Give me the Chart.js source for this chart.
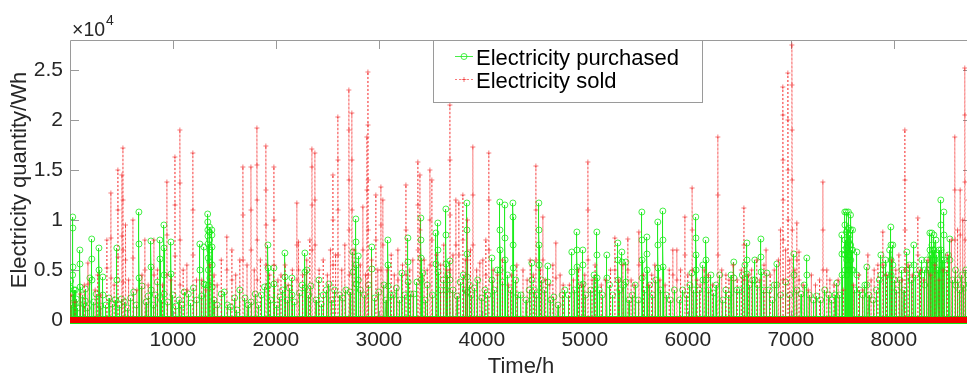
<!DOCTYPE html>
<html>
<head>
<meta charset="utf-8">
<script src="https://cdn.jsdelivr.net/npm/chart.js@4/dist/chart.umd.min.js"></script>
<style>
html,body{margin:0;padding:0;background:#fff;overflow:hidden;width:967px;height:377px}
#wrap{position:relative;width:980px;height:377px}
</style>
</head>
<body>
<div id="wrap"><canvas id="c" width="980" height="377"></canvas></div>
<script>
// ---------------- data ----------------
const totalHours = 8760;
const xTickValues = [1000, 2000, 3000, 4000, 5000, 6000, 7000, 8000];
const yTickValues = [0, 5000, 10000, 15000, 20000, 25000];
const yTickLabels = ['0', '0.5', '1', '1.5', '2', '2.5'];
const seriesNames = ['Electricity purchased', 'Electricity sold'];
const xTitle = 'Time/h';
const yTitle = 'Electricity quantity/Wh';

// [hour, Wh] for every non-zero hour that can be read; all other hours are 0
const purchasedSpikes = [
[5,3200],[6,2200],[7,3900],[15,1500],[27,4500],[28,10300],[29,9200],[30,5300],[31,2600],[40,3000],[52,1600],[53,3000],[62,2100],[75,1200],[97,7000],[98,5600],[99,3300],[120,2500],[135,1600],[150,1900],[151,3100],[170,1200],[194,4200],[212,8100],[213,6100],[214,4000],[230,1800],[255,2600],[282,7200],[283,5000],[300,1400],[320,4300],[321,2500],[350,1500],[380,2200],[410,1600],[440,2000],[456,7200],[457,4000],[480,1500],[500,2100],[530,1800],[560,1200],[590,2200],[620,2800],[645,1500],[670,10800],[671,7600],[672,4200],[700,3400],[740,1800],[760,2400],[787,7900],[788,5300],[789,3000],[810,1500],[830,2500],[850,3800],[874,8000],[875,6100],[890,2000],[913,9500],[914,7200],[915,4500],[916,2600],[950,1800],[981,7800],[982,4600],[1000,2500],[1030,1400],[1060,2000],[1088,1500],[1110,2800],[1150,2600],[1175,1700],[1200,3200],[1230,2000],[1262,7600],[1263,5000],[1280,2400],[1301,7300],[1302,3600],[1320,3500],[1338,10600],[1339,9800],[1340,9000],[1341,8400],[1342,7600],[1343,6200],[1344,5000],[1345,3500],[1355,9300],[1356,8800],[1357,8000],[1358,7000],[1359,5800],[1360,4200],[1378,9000],[1379,8500],[1380,7300],[1381,5500],[1382,3300],[1400,2000],[1430,1500],[1470,2600],[1500,2800],[1530,1500],[1560,1300],[1600,2200],[1622,1000],[1650,3000],[1700,2200],[1730,1500],[1760,1800],[1800,2600],[1830,1500],[1860,2500],[1890,3300],[1923,7500],[1924,5200],[1925,3400],[1950,2000],[1981,5200],[1982,3600],[2010,1500],[2040,2300],[2065,3000],[2088,6700],[2089,4300],[2110,2000],[2130,3200],[2156,4200],[2157,2500],[2180,1800],[2230,2700],[2255,3500],[2282,6700],[2283,4800],[2284,3200],[2300,5000],[2320,2500],[2340,3400],[2390,2000],[2418,4000],[2440,1600],[2460,2500],[2490,3000],[2515,3600],[2540,2000],[2570,3000],[2620,2500],[2650,2200],[2680,3000],[2720,2800],[2748,6800],[2749,4800],[2777,10100],[2778,7800],[2779,5500],[2780,3600],[2800,6400],[2801,4000],[2820,3000],[2860,2500],[2900,3500],[2932,7300],[2933,5100],[2960,2200],[3000,2800],[3050,3500],[3070,2000],[3088,8000],[3089,5500],[3090,3400],[3110,2500],[3140,2500],[3170,3200],[3200,2000],[3224,4700],[3250,2500],[3282,8200],[3283,5800],[3284,3800],[3310,2600],[3340,2600],[3370,3800],[3408,10200],[3409,8000],[3410,6200],[3411,4000],[3427,4700],[3450,2000],[3470,3500],[3520,2500],[3554,8700],[3555,5600],[3573,9700],[3574,7000],[3575,4800],[3600,3000],[3625,4000],[3651,11100],[3652,8500],[3653,5600],[3654,3000],[3670,4500],[3690,5900],[3691,4000],[3720,3000],[3760,2400],[3790,3800],[3820,4500],[3840,3000],[3855,11700],[3856,9000],[3857,6600],[3858,4300],[3859,2800],[3880,3500],[3900,2500],[3930,3200],[3960,4000],[4000,2200],[4030,3000],[4060,2500],[4098,6200],[4099,4000],[4120,3000],[4150,5000],[4175,11800],[4176,9000],[4177,7000],[4178,5000],[4200,3800],[4224,11500],[4225,8200],[4226,6000],[4250,4500],[4280,3000],[4302,11700],[4303,10300],[4304,7500],[4305,5200],[4330,4000],[4350,2500],[4380,2500],[4430,2000],[4460,3000],[4486,5700],[4487,4000],[4510,3000],[4530,2500],[4554,11700],[4555,9000],[4556,7500],[4557,5500],[4580,4000],[4610,3000],[4641,5400],[4642,3800],[4670,2000],[4700,2300],[4740,1500],[4780,2500],[4806,3000],[4840,2500],[4874,6800],[4875,4800],[4900,3000],[4923,8800],[4924,7000],[4925,5300],[4950,3500],[4981,7000],[4982,5500],[4983,3600],[5010,2500],[5060,3000],[5090,4500],[5117,8800],[5118,6500],[5119,4200],[5140,3000],[5170,2500],[5214,6500],[5215,4200],[5240,3500],[5270,2500],[5321,7700],[5322,6000],[5323,4000],[5340,3000],[5360,6800],[5361,5800],[5380,3500],[5399,5800],[5400,3800],[5430,2000],[5460,2500],[5490,3500],[5520,2000],[5554,10800],[5555,8000],[5556,6000],[5557,4200],[5580,3000],[5603,8300],[5604,6600],[5605,5000],[5630,3500],[5660,2500],[5690,4000],[5709,9800],[5710,7500],[5711,5200],[5735,3000],[5758,10900],[5759,8000],[5760,5300],[5790,2500],[5830,2000],[5870,3000],[5920,2000],[5950,3000],[5990,2500],[6020,3500],[6040,4700],[6060,3000],[6078,10300],[6079,8200],[6080,6500],[6081,5000],[6110,3000],[6146,5500],[6147,4000],[6176,8000],[6177,6000],[6178,4000],[6200,3000],[6225,4500],[6250,2700],[6275,3500],[6310,4500],[6340,2000],[6370,3000],[6400,2500],[6420,4500],[6447,5800],[6448,4200],[6475,3000],[6500,3000],[6530,4500],[6555,5500],[6574,7700],[6575,6000],[6576,4600],[6600,3500],[6630,4000],[6651,6000],[6652,4000],[6680,3500],[6710,8100],[6711,6300],[6712,4800],[6740,3000],[6768,4700],[6790,3000],[6820,2000],[6840,3500],[6865,5600],[6866,3500],[6900,2500],[6950,3800],[6990,2500],[7030,6600],[7031,4500],[7060,3000],[7100,2600],[7130,3500],[7156,6200],[7157,4500],[7180,2500],[7220,2000],[7250,2400],[7290,2000],[7330,3000],[7370,2500],[7400,2000],[7430,2500],[7448,3700],[7470,2500],[7496,8500],[7497,6600],[7498,4500],[7520,7000],[7525,10800],[7526,9500],[7527,8000],[7528,6500],[7529,5000],[7540,10800],[7541,8800],[7542,7200],[7543,6000],[7544,4500],[7550,9000],[7551,7500],[7552,5500],[7560,10800],[7561,9200],[7562,7800],[7563,6300],[7564,5000],[7570,8500],[7571,6500],[7580,10500],[7581,9000],[7582,7500],[7583,6000],[7590,7000],[7591,5000],[7600,9000],[7601,7000],[7602,5000],[7620,3000],[7642,6800],[7643,4500],[7670,3000],[7700,2500],[7720,3500],[7739,5300],[7740,3500],[7760,2500],[7800,2000],[7830,3000],[7860,4000],[7875,6500],[7876,4500],[7900,5500],[7920,6000],[7940,4500],[7960,7000],[7972,9300],[7973,7500],[7974,6000],[7975,4500],[7991,7500],[7992,5500],[8010,4000],[8030,3000],[8060,4000],[8080,5000],[8100,3000],[8127,6800],[8128,5000],[8150,5500],[8170,4000],[8195,7500],[8196,5500],[8215,4500],[8250,5000],[8273,6000],[8274,4500],[8300,5000],[8301,3500],[8320,6000],[8335,5000],[8351,8700],[8352,7000],[8353,5500],[8360,6500],[8370,8700],[8371,7500],[8372,6000],[8373,4500],[8380,7000],[8390,8500],[8391,7000],[8392,5500],[8400,6000],[8410,8000],[8411,6500],[8412,5000],[8430,5000],[8440,7000],[8457,12000],[8458,9500],[8459,7000],[8460,5000],[8470,6000],[8487,10800],[8488,8500],[8489,6000],[8510,5000],[8530,6500],[8545,8100],[8546,6000],[8570,4000],[8600,5000],[8601,3500],[8620,4000],[8642,3000],[8660,4500],[8680,3500],[8700,5000],[8720,4000],[8740,3000]
];

const soldSpikes = [
[10,2500],[49,1800],[100,2600],[140,3500],[175,5700],[176,3600],[245,3000],[270,4500],[300,2500],[359,8000],[360,5200],[398,12700],[399,8200],[400,4200],[430,3500],[466,15000],[467,11000],[468,6300],[505,14500],[506,8400],[515,17200],[516,12000],[517,7000],[518,3800],[540,9500],[541,6000],[570,4000],[612,10000],[613,6200],[650,3000],[700,4500],[728,8000],[729,5000],[760,3500],[816,8000],[817,4500],[850,5000],[900,3500],[942,13800],[943,8500],[944,4500],[980,4000],[1020,16300],[1021,11500],[1022,6400],[1068,19000],[1069,13700],[1070,8000],[1071,3500],[1100,5000],[1136,5500],[1137,3000],[1194,16700],[1195,11000],[1196,6500],[1230,4000],[1280,4000],[1320,3000],[1360,5500],[1400,4500],[1430,3500],[1470,6000],[1524,8300],[1525,5000],[1573,7000],[1574,4000],[1610,4500],[1650,6000],[1680,15300],[1681,10500],[1682,6000],[1720,5500],[1758,15300],[1759,11000],[1760,7000],[1790,5000],[1816,19200],[1817,15500],[1818,12000],[1819,8000],[1820,4000],[1850,6000],[1903,17400],[1904,13000],[1905,9500],[1906,5500],[1940,4500],[1981,15300],[1982,10000],[1983,5500],[2020,4000],[2050,4500],[2090,5500],[2120,3500],[2160,5000],[2204,11700],[2205,7500],[2206,4000],[2220,7800],[2221,5000],[2260,4500],[2300,6000],[2330,8000],[2350,17100],[2351,15300],[2352,11500],[2353,7000],[2379,16700],[2380,12000],[2381,7500],[2420,5000],[2460,6000],[2500,4500],[2530,7000],[2554,14500],[2555,10000],[2556,5500],[2580,6500],[2602,20300],[2603,16000],[2604,11000],[2605,6500],[2640,5000],[2670,7500],[2709,23000],[2710,19000],[2711,14000],[2712,9000],[2713,4500],[2738,20700],[2739,16000],[2740,11000],[2760,7000],[2820,5500],[2845,11300],[2846,7000],[2870,4500],[2884,18300],[2885,13000],[2894,24800],[2895,19500],[2896,14000],[2897,9000],[2898,4500],[2930,6000],[2971,12500],[2972,8000],[2990,5000],[3020,13300],[3021,9500],[3022,5000],[3039,12000],[3040,7500],[3080,5000],[3120,6500],[3150,4500],[3185,7000],[3186,4000],[3230,5500],[3263,13500],[3264,9000],[3265,4500],[3300,5000],[3330,6000],[3379,15800],[3380,11500],[3381,7000],[3399,14500],[3400,9000],[3440,6000],[3470,5000],[3496,15000],[3497,10000],[3498,5500],[3515,14000],[3516,8000],[3560,6500],[3600,5500],[3630,7500],[3660,5000],[3690,21500],[3691,16000],[3692,10500],[3693,5000],[3720,6500],[3748,12000],[3749,7500],[3777,11700],[3778,6500],[3816,12500],[3817,8000],[3840,6000],[3860,10000],[3861,6000],[3890,7000],[3913,17300],[3914,12500],[3915,7500],[3950,5000],[3981,5700],[4010,6000],[4039,8000],[4040,4500],[4068,16700],[4069,12000],[4070,7000],[4110,5000],[4150,4500],[4200,6000],[4260,3500],[4290,4500],[4340,5500],[4400,5000],[4440,4000],[4470,6000],[4500,4500],[4525,15400],[4526,11000],[4527,6000],[4570,5000],[4593,10300],[4594,6000],[4620,4000],[4660,3500],[4690,5500],[4719,7700],[4720,4200],[4760,4500],[4790,3500],[4850,3500],[4890,4000],[4940,5000],[4970,3500],[5000,4500],[5030,15800],[5031,11000],[5032,6000],[5070,4000],[5100,5500],[5160,3500],[5200,4000],[5250,5000],[5292,8200],[5293,5000],[5330,4000],[5370,5500],[5418,8100],[5419,5000],[5450,4000],[5480,3500],[5525,8800],[5526,5500],[5570,4500],[5620,3500],[5650,4500],[5680,5500],[5730,4000],[5780,3500],[5820,5000],[5855,7000],[5856,4500],[5894,7000],[5895,4000],[5930,5000],[5972,10300],[5973,6500],[6000,4500],[6042,13200],[6043,9000],[6044,5000],[6090,4000],[6120,3500],[6160,5000],[6200,4500],[6240,3500],[6292,18300],[6293,12500],[6294,6500],[6330,5000],[6370,4500],[6400,4000],[6440,5500],[6480,4000],[6520,5000],[6545,11200],[6546,7500],[6547,4000],[6590,4500],[6620,5000],[6670,6000],[6700,4000],[6740,5500],[6760,7000],[6800,4500],[6840,5000],[6880,6000],[6900,9000],[6923,23300],[6924,20500],[6925,16000],[6926,12000],[6927,8000],[6928,4000],[6950,7000],[6972,24700],[6973,20000],[6974,15000],[6975,10000],[6990,6000],[7011,27500],[7012,23500],[7013,19000],[7014,14000],[7015,9000],[7040,5000],[7059,9700],[7060,6000],[7080,6800],[7081,4000],[7120,3500],[7170,3000],[7200,4500],[7240,3500],[7280,4000],[7312,13800],[7313,9000],[7314,5000],[7350,5000],[7380,4000],[7420,3500],[7460,4000],[7510,3000],[7610,3500],[7660,4500],[7700,3000],[7749,6500],[7780,4000],[7810,5000],[7846,5500],[7894,8800],[7895,5500],[7930,4500],[7980,6000],[8020,5000],[8050,6500],[8080,4000],[8108,19000],[8109,14000],[8110,9000],[8111,5000],[8140,5500],[8180,4500],[8234,10200],[8235,6500],[8260,5000],[8290,4000],[8332,6000],[8360,4500],[8400,5500],[8440,4000],[8480,5000],[8520,6500],[8560,8000],[8593,18300],[8594,13000],[8595,8000],[8620,9000],[8645,13000],[8646,8500],[8670,10000],[8690,25200],[8691,20500],[8692,13800],[8693,8000],[8720,12000],[8740,9000]
];

// ---------------- build series ----------------
function buildSeries(spikes) {
  const lookup = new Map(spikes);
  const out = [];
  for (let h = 1; h <= totalHours; h++) out.push({ x: h, y: lookup.get(h) || 0 });
  return out;
}

const GREEN = 'rgba(20,235,20,0.78)';
const RED_LINE = 'rgba(245,30,30,0.6)';
const RED_MARK = 'rgba(240,40,40,0.6)';
const RED_BASE = 'rgb(245,0,0)';
const AXIS = '#9a9a9a';
const TXT = '#262626';
const FONT = '"Liberation Sans", Arial, Helvetica, sans-serif';

const axesPlugin = {
  id: 'matlabAxes',
  beforeDatasetsDraw(chart) {
    const { ctx, chartArea: a, scales } = chart;
    ctx.save();
    ctx.strokeStyle = AXIS;
    ctx.lineWidth = 1;
    ctx.beginPath();
    ctx.moveTo(Math.round(a.left) + 0.5, a.bottom);
    ctx.lineTo(Math.round(a.left) + 0.5, Math.round(a.top) + 0.5);
    ctx.lineTo(a.right, Math.round(a.top) + 0.5);
    ctx.lineTo(a.right, a.bottom);
    ctx.lineTo(a.left, a.bottom);
    ctx.stroke();
    const tl = 9;
    ctx.beginPath();
    yTickValues.forEach(v => {
      const y = Math.round(scales.y.getPixelForValue(v)) + 0.5;
      ctx.moveTo(a.left, y); ctx.lineTo(a.left + tl, y);
      ctx.moveTo(a.right, y); ctx.lineTo(a.right - tl, y);
    });
    xTickValues.forEach(v => {
      const x = Math.round(scales.x.getPixelForValue(v)) + 0.5;
      ctx.moveTo(x, a.top); ctx.lineTo(x, a.top + tl);
      ctx.moveTo(x, a.bottom); ctx.lineTo(x, a.bottom - tl);
    });
    ctx.stroke();
    ctx.restore();
  },
  afterDraw(chart) {
    const { ctx, chartArea: a } = chart;
    ctx.save();
    // exponent label
    ctx.fillStyle = TXT;
    ctx.textBaseline = 'alphabetic';
    ctx.font = '19.5px ' + FONT;
    ctx.fillText('\u00d710', a.left + 2, 35.5);
    const w = ctx.measureText('\u00d710').width;
    ctx.font = '14px ' + FONT;
    ctx.fillText('4', a.left + 3 + w, 25);

    // legend
    const lx = 433, ly = 40, lw = 269, lh = 62;
    ctx.fillStyle = '#fff';
    ctx.fillRect(lx, ly, lw, lh);
    ctx.strokeStyle = AXIS;
    ctx.lineWidth = 1;
    ctx.strokeRect(lx + 0.5, ly + 0.5, lw, lh);
    // row 1
    ctx.strokeStyle = GREEN;
    ctx.beginPath(); ctx.moveTo(455, 56.5); ctx.lineTo(473, 56.5); ctx.stroke();
    ctx.beginPath(); ctx.arc(464, 56.5, 3, 0, Math.PI * 2); ctx.stroke();
    // row 2
    ctx.strokeStyle = RED_LINE;
    ctx.setLineDash([2, 2]);
    ctx.beginPath(); ctx.moveTo(455, 79.5); ctx.lineTo(473, 79.5); ctx.stroke();
    ctx.setLineDash([]);
    ctx.strokeStyle = RED_MARK;
    ctx.beginPath(); ctx.moveTo(461.5, 79.5); ctx.lineTo(466.5, 79.5); ctx.moveTo(464, 77); ctx.lineTo(464, 82); ctx.stroke();
    ctx.fillStyle = '#000';
    ctx.font = '22px ' + FONT;
    ctx.fillText(seriesNames[0], 476, 65);
    ctx.fillText(seriesNames[1], 476, 88);
    ctx.restore();
  }
};

new Chart(document.getElementById('c'), {
  type: 'line',
  data: {
    datasets: [
      {
        label: seriesNames[0],
        data: buildSeries(purchasedSpikes),
        borderColor: GREEN,
        borderWidth: 1,
        pointStyle: 'circle',
        pointRadius: 3,
        pointBorderWidth: 1,
        pointBorderColor: GREEN,
        pointBackgroundColor: 'rgba(0,0,0,0)',
        fill: false,
        tension: 0,
        order: 1,
        clip: { left: 0, top: 0, right: 0, bottom: 4 }
      },
      {
        label: seriesNames[1],
        data: buildSeries(soldSpikes),
        borderColor: RED_LINE,
        borderWidth: 1,
        borderDash: [2, 2],
        pointStyle: 'cross',
        pointRadius: c => (c.raw && c.raw.y === 0 ? 3 : 2.5),
        pointBorderWidth: 1,
        pointBorderColor: c => (c.raw && c.raw.y === 0 ? RED_BASE : RED_MARK),
        pointBackgroundColor: 'rgba(0,0,0,0)',
        fill: false,
        tension: 0,
        order: 0,
        clip: { left: 0, top: 0, right: 0, bottom: 4 }
      }
    ]
  },
  options: {
    responsive: false,
    animation: false,
    devicePixelRatio: 1,
    events: [],
    layout: { padding: { top: 40, right: 8, left: 0, bottom: 0 } },
    plugins: { legend: { display: false }, tooltip: { enabled: false } },
    scales: {
      x: {
        type: 'linear',
        min: 1,
        max: totalHours,
        grid: { display: false, drawTicks: false },
        border: { display: false },
        afterBuildTicks: s => { s.ticks = xTickValues.map(v => ({ value: v })); },
        afterFit: s => { s.height = 57; },
        ticks: {
          autoSkip: false, maxRotation: 0, minRotation: 0, padding: 8,
          color: TXT, font: { family: FONT, size: 21 },
          callback: v => String(v)
        },
        title: {
          display: true, text: xTitle, color: TXT,
          font: { family: FONT, size: 22 }, padding: { top: 0, bottom: -3 }
        }
      },
      y: {
        type: 'linear',
        min: 0,
        max: 28000,
        grid: { display: false, drawTicks: false },
        border: { display: false },
        afterBuildTicks: s => { s.ticks = yTickValues.map(v => ({ value: v })); },
        afterFit: s => { s.width = 70; },
        ticks: {
          padding: 7, color: TXT, font: { family: FONT, size: 21 },
          callback: v => yTickLabels[yTickValues.indexOf(v)]
        },
        title: {
          display: true, text: yTitle, color: TXT,
          font: { family: FONT, size: 22 }, padding: { top: 7, bottom: 0 }
        }
      }
    }
  },
  plugins: [axesPlugin]
});
</script>
</body>
</html>
